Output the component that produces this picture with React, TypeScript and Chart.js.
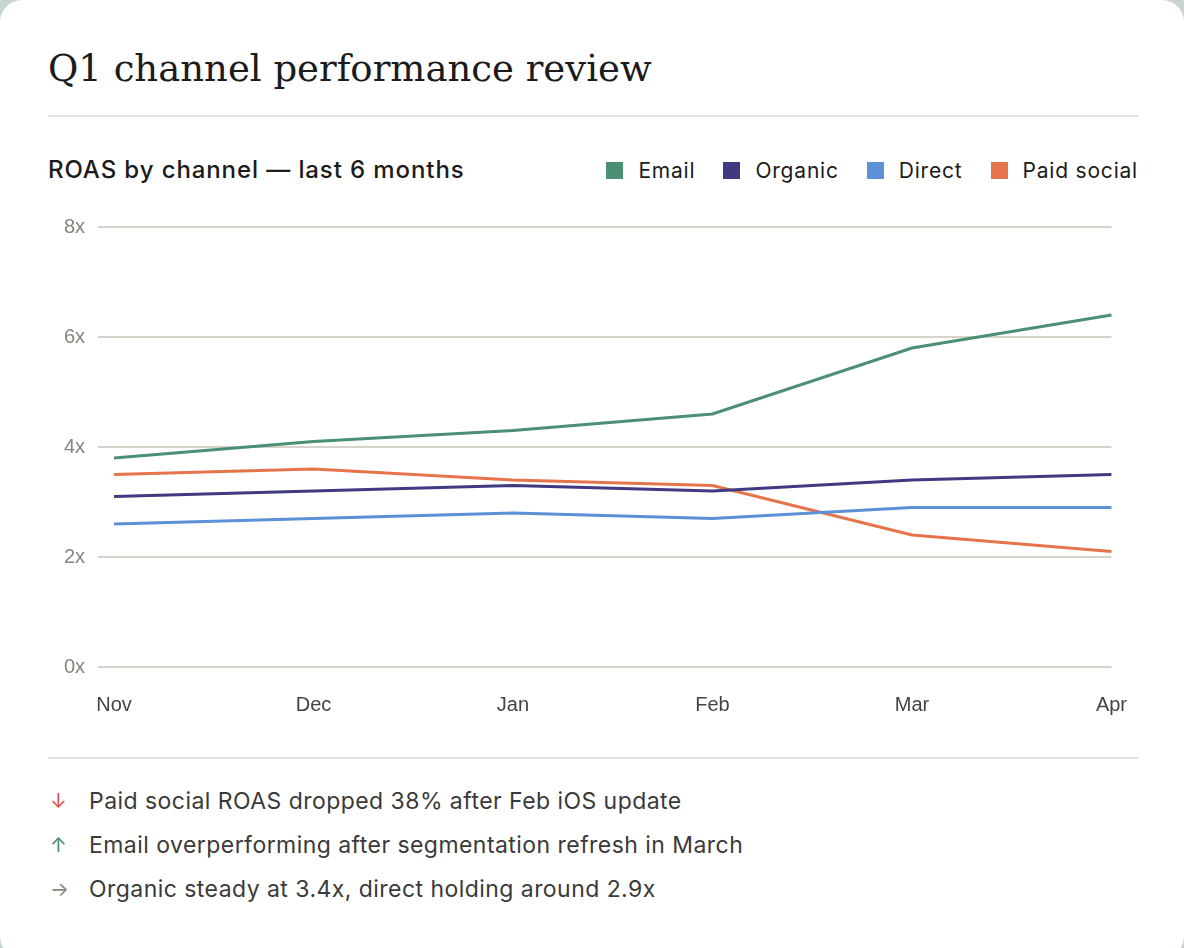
import React, { useEffect, useRef } from "react";
import { Chart, registerables } from "chart.js";

Chart.register(...registerables);

const months = ["Nov", "Dec", "Jan", "Feb", "Mar", "Apr"];
const emailRoas = [3.8, 4.1, 4.3, 4.6, 5.8, 6.4];
const organicRoas = [3.1, 3.2, 3.3, 3.2, 3.4, 3.5];
const directRoas = [2.6, 2.7, 2.8, 2.7, 2.9, 2.9];
const paidSocialRoas = [3.5, 3.6, 3.4, 3.3, 2.4, 2.1];
const yTicks = [0, 2, 4, 6, 8];

const series = [
  { label: "Email", data: emailRoas, color: "#4b8f75" },
  { label: "Organic", data: organicRoas, color: "#3f3a82" },
  { label: "Direct", data: directRoas, color: "#5c91d6" },
  { label: "Paid social", data: paidSocialRoas, color: "#e5744b" },
];

const notes = [
  { arrow: "↓", color: "#d4574b", text: "Paid social ROAS dropped 38% after Feb iOS update" },
  { arrow: "↑", color: "#4b8f75", text: "Email overperforming after segmentation refresh in March" },
  { arrow: "→", color: "#8a8a84", text: "Organic steady at 3.4x, direct holding around 2.9x" },
];

const SANS = "Inter, 'Noto Sans', sans-serif";
const AXIS_FONT = "'Liberation Sans', Arial, sans-serif";

function RoasChart() {
  const canvasRef = useRef<HTMLCanvasElement | null>(null);

  useEffect(() => {
    if (!canvasRef.current) return;
    const chart = new Chart(canvasRef.current, {
      type: "line",
      data: {
        labels: months,
        datasets: series.map((s) => ({
          label: s.label,
          data: s.data,
          borderColor: s.color,
          backgroundColor: s.color,
          borderWidth: 3,
          pointRadius: 0,
          tension: 0,
          fill: false,
        })),
      },
      options: {
        animation: false,
        responsive: true,
        maintainAspectRatio: false,
        layout: { padding: { top: 0, right: 7, bottom: 0, left: 0 } },
        plugins: {
          legend: { display: false },
          tooltip: { enabled: false },
        },
        scales: {
          x: {
            grid: { display: false, drawTicks: false },
            border: { display: false },
            ticks: {
              color: "#444444",
              padding: 26,
              maxRotation: 0,
              font: { family: AXIS_FONT, size: 20 },
            },
          },
          y: {
            min: 0,
            max: 8,
            afterFit: (scale: any) => {
              scale.width = 66;
            },
            afterBuildTicks: (scale: any) => {
              scale.ticks = yTicks.map((v) => ({ value: v }));
            },
            grid: { color: "#d6d3ca", lineWidth: 2, tickLength: 16 },
            border: { display: false },
            ticks: {
              color: "#86857d",
              padding: 13,
              font: { family: AXIS_FONT, size: 20 },
              callback: (v: any) => `${v}x`,
            },
          },
        },
      },
    });
    return () => chart.destroy();
  }, []);

  return <canvas ref={canvasRef} />;
}

export default function App() {
  return (
    <div
      style={{
        position: "fixed",
        inset: 0,
        background: "#c8d5d0",
        overflow: "hidden",
      }}
    >
      <div
        style={{
          position: "absolute",
          left: 0,
          top: 0,
          width: 1184,
          height: 958,
          background: "#ffffff",
          borderRadius: 22,
        }}
      >
        <div
          style={{
            position: "absolute",
            left: 48,
            top: 43,
            fontFamily: "'DejaVu Serif', 'Liberation Serif', serif",
            fontSize: 37,
            color: "#1b1b1b",
            lineHeight: "52px",
            whiteSpace: "nowrap",
          }}
        >
          Q1 channel performance review
        </div>
        <div
          style={{
            position: "absolute",
            left: 48,
            top: 115,
            width: 1090,
            height: 2,
            background: "#e5e3dc",
          }}
        />
        <div
          style={{
            position: "absolute",
            left: 48,
            top: 155,
            fontFamily: SANS,
            fontSize: 24,
            fontWeight: 500,
            letterSpacing: 0.9,
            color: "#1b1b1b",
            lineHeight: "30px",
            whiteSpace: "nowrap",
          }}
        >
          ROAS by channel — last 6 months
        </div>
        <div
          style={{
            position: "absolute",
            right: 46,
            top: 155,
            display: "flex",
            alignItems: "center",
            height: 30,
            fontFamily: SANS,
            fontSize: 21,
            letterSpacing: 0.8,
            color: "#1b1b1b",
            whiteSpace: "nowrap",
          }}
        >
          {series.map((s, i) => (
            <div
              key={s.label}
              style={{ display: "flex", alignItems: "center", marginLeft: i === 0 ? 0 : 28 }}
            >
              <span
                style={{
                  display: "inline-block",
                  width: 17,
                  height: 17,
                  background: s.color,
                  marginRight: 15,
                }}
              />
              <span>{s.label}</span>
            </div>
          ))}
        </div>
        <div
          style={{
            position: "absolute",
            left: 48,
            top: 202,
            width: 1105,
            height: 541,
          }}
        >
          <RoasChart />
        </div>
        <div
          style={{
            position: "absolute",
            left: 48,
            top: 757,
            width: 1090,
            height: 2,
            background: "#e5e3dc",
          }}
        />
        <div style={{ position: "absolute", left: 48, top: 779 }}>
          {notes.map((n) => (
            <div
              key={n.text}
              style={{
                display: "flex",
                alignItems: "center",
                height: 44,
                fontFamily: SANS,
                fontSize: 23,
                letterSpacing: 0.45,
                color: "#3a3a3a",
                whiteSpace: "nowrap",
              }}
            >
              <span style={{ color: n.color, width: 39, paddingLeft: 2, fontSize: 20, letterSpacing: 0 }}>
                {n.arrow}
              </span>
              <span>{n.text}</span>
            </div>
          ))}
        </div>
      </div>
    </div>
  );
}
